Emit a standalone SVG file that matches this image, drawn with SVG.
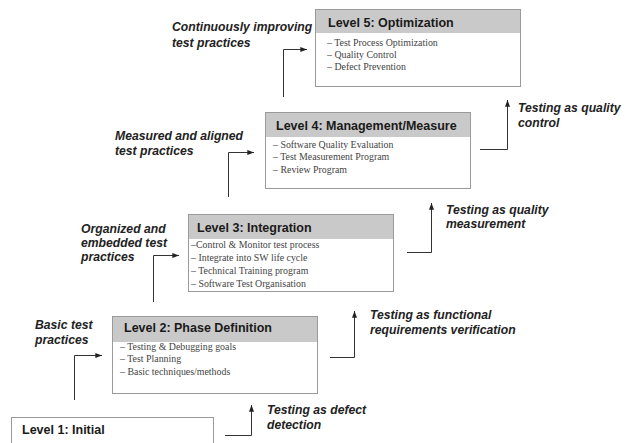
<svg xmlns="http://www.w3.org/2000/svg" width="634" height="443" viewBox="0 0 634 443">
<defs>
<marker id="arr" viewBox="0 0 8 6" refX="8" refY="3" markerWidth="7" markerHeight="5" orient="auto" markerUnits="userSpaceOnUse">
<path d="M0,0 L8,3 L0,6 Z" fill="#222"/>
</marker>
<style>
.box{fill:#fff;stroke:#9a9a9a;stroke-width:1}
.hdr{fill:#c9c9c9;stroke:none}
.title{font-family:"Liberation Sans",Arial,sans-serif;font-weight:bold;font-size:12.5px;fill:#1a1a1a}
.item{font-family:"Liberation Serif","Times New Roman",serif;font-size:9.9px;fill:#444}
.lbl{font-family:"Liberation Sans",Arial,sans-serif;font-weight:bold;font-style:italic;font-size:12.2px;fill:#222}
.con{fill:none;stroke:#333;stroke-width:1}
</style>
</defs>
<rect width="634" height="443" fill="#fff"/>

<g id="level5">
<rect class="box" x="315.5" y="9.5" width="205" height="77"/>
<rect class="hdr" x="316" y="10" width="204" height="23"/>
<text class="title" x="328" y="27">Level 5: Optimization</text>
<text class="item" x="327" y="46">– Test Process Optimization</text>
<text class="item" x="327" y="58">– Quality Control</text>
<text class="item" x="327" y="70">– Defect Prevention</text>
</g>

<g id="level4">
<rect class="box" x="265.5" y="112.5" width="205" height="76"/>
<rect class="hdr" x="266" y="113" width="204" height="24"/>
<text class="title" x="276" y="130">Level 4: Management/Measure</text>
<text class="item" x="273" y="148">– Software Quality Evaluation</text>
<text class="item" x="273" y="160">– Test Measurement Program</text>
<text class="item" x="273" y="173">– Review Program</text>
</g>

<g id="level3">
<rect class="box" x="188.5" y="214.5" width="205" height="77"/>
<rect class="hdr" x="189" y="215" width="204" height="24"/>
<text class="title" x="197" y="232">Level 3: Integration</text>
<text class="item" x="191" y="248">–Control &amp; Monitor test process</text>
<text class="item" x="191" y="261">– Integrate into SW life cycle</text>
<text class="item" x="191" y="274">– Technical Training program</text>
<text class="item" x="191" y="287">– Software Test Organisation</text>
</g>

<g id="level2">
<rect class="box" x="112.5" y="316.5" width="205" height="77"/>
<rect class="hdr" x="113" y="317" width="204" height="25"/>
<text class="title" x="124" y="332">Level 2: Phase Definition</text>
<text class="item" x="120" y="350">– Testing &amp; Debugging goals</text>
<text class="item" x="120" y="362">– Test Planning</text>
<text class="item" x="120" y="375">– Basic techniques/methods</text>
</g>

<g id="level1">
<rect class="box" x="11.5" y="417.5" width="202" height="40"/>
<text class="title" x="22" y="434">Level 1: Initial</text>
</g>

<g id="labels">
<text class="lbl" x="172" y="31">Continuously improving</text>
<text class="lbl" x="172" y="47">test practices</text>
<text class="lbl" x="115" y="140">Measured and aligned</text>
<text class="lbl" x="115" y="155">test practices</text>
<text class="lbl" x="81" y="233">Organized and</text>
<text class="lbl" x="81" y="247">embedded test</text>
<text class="lbl" x="81" y="261">practices</text>
<text class="lbl" x="35" y="329">Basic test</text>
<text class="lbl" x="35" y="344">practices</text>
<text class="lbl" x="518" y="112">Testing as quality</text>
<text class="lbl" x="518" y="127">control</text>
<text class="lbl" x="446" y="214">Testing as quality</text>
<text class="lbl" x="446" y="228">measurement</text>
<text class="lbl" x="370" y="319">Testing as functional</text>
<text class="lbl" x="370" y="334">requirements verification</text>
<text class="lbl" x="267" y="414">Testing as defect</text>
<text class="lbl" x="267" y="429">detection</text>
</g>

<g id="connectors">
<path class="con" d="M74.5,400 V355.5 H102" marker-end="url(#arr)"/>
<path class="con" d="M225,435.5 H251.5 V405" marker-end="url(#arr)"/>
<path class="con" d="M153.5,302 V255.5 H179" marker-end="url(#arr)"/>
<path class="con" d="M330,357.5 H354.5 V311" marker-end="url(#arr)"/>
<path class="con" d="M228.5,197 V152.5 H254" marker-end="url(#arr)"/>
<path class="con" d="M407,252.5 H431.5 V203" marker-end="url(#arr)"/>
<path class="con" d="M283.5,97 V49.5 H307" marker-end="url(#arr)"/>
<path class="con" d="M480,149.5 H507.5 V100" marker-end="url(#arr)"/>
</g>
</svg>
